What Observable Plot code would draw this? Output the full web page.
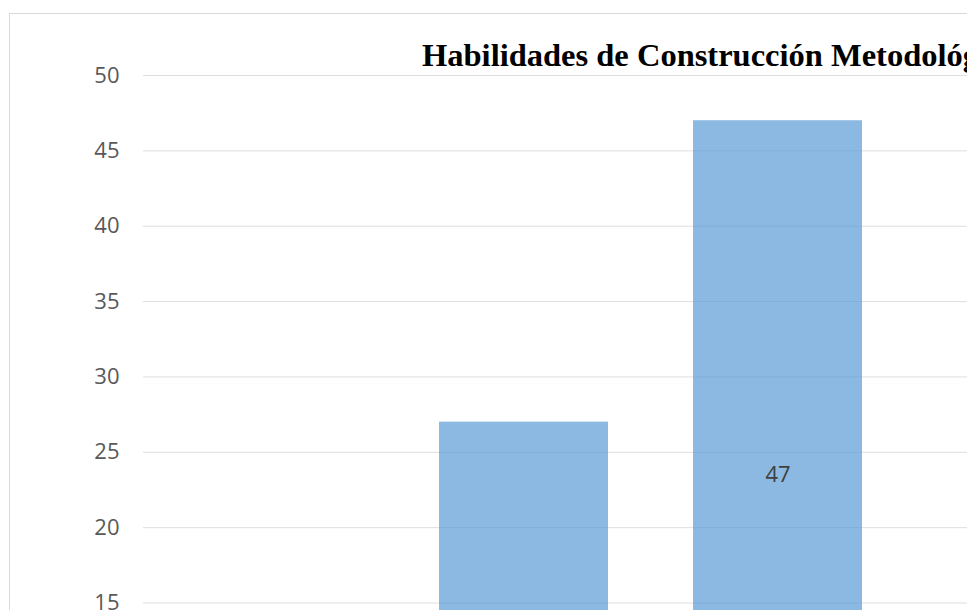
<!DOCTYPE html>
<html><head><meta charset="utf-8">
<script src="https://cdn.jsdelivr.net/npm/d3@7"></script>
<script src="https://cdn.jsdelivr.net/npm/@observablehq/plot@0.6"></script>
<style>
html,body{margin:0;padding:0;background:#fff;overflow:hidden;}
#wrap{position:relative;width:967px;height:610px;overflow:hidden;}
#frame{position:absolute;left:9px;top:13px;width:2000px;height:2000px;border-left:1px solid #d9d9d9;border-top:1px solid #d9d9d9;}
#title{position:absolute;left:422px;top:39px;font-family:"Liberation Serif","Times New Roman",serif;font-weight:bold;font-size:32.5px;line-height:32.5px;white-space:nowrap;color:#000;}
#chart{position:absolute;left:0;top:0;width:1500px;height:900px;}
#chart svg{max-width:none !important;}
</style></head><body>
<div id="wrap"><div id="frame"></div><div id="chart"></div><div id="title"></div></div>
<script>
const titleText = "Habilidades de Construcción Metodológica";
const categories = ["Bajo", "Medio", "Alto"];
const values = [8, 27, 47];
const yTicks = [15, 20, 25, 30, 35, 40, 45, 50];

const data = categories.map((c, i) => ({cat: c, value: values[i]}));
document.getElementById("title").textContent = titleText;

const chart = Plot.plot({
  width: 1500,
  height: 900,
  marginTop: 75,
  marginBottom: 71.4,
  marginLeft: 143,
  marginRight: 87,
  style: {background: "transparent", fontFamily: "'Open Sans', sans-serif", fontSize: "22px", color: "#595959", overflow: "visible", maxWidth: "none"},
  x: {domain: categories, range: [143, 905], paddingInner: 1/3, paddingOuter: 1/6, axis: null},
  y: {domain: [0, 50], ticks: yTicks},
  marks: [
    Plot.ruleY(yTicks, {stroke: "#dedede", strokeWidth: 1}),
    Plot.axisY(yTicks, {tickSize: 0, tickPadding: 24, label: null, fill: "#595959", fontSize: 22}),
    Plot.barY(data, {x: "cat", y: "value", fill: "#5B9BD5", fillOpacity: 0.7}),
    Plot.text(data, {x: "cat", y: d => d.value / 2, text: d => String(d.value), fill: "#404040", fontSize: 22})
  ]
});
document.getElementById("chart").appendChild(chart);
</script>
</body></html>
